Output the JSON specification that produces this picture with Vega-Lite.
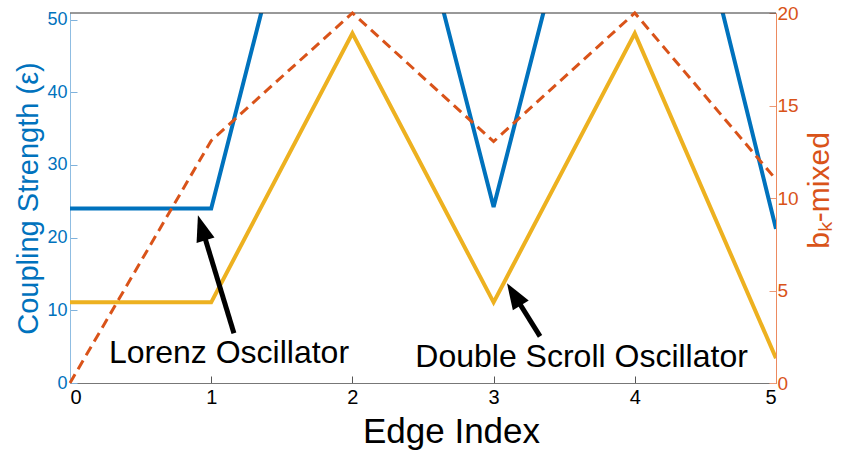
{
  "$schema": "https://vega.github.io/schema/vega-lite/v6.json",
  "autosize": "none",
  "width": 706,
  "height": 370,
  "padding": {"left": 70, "top": 13, "right": 69, "bottom": 72},
  "background": "white",
  "config": {
    "view": {"stroke": null},
    "font": "Liberation Sans",
    "axis": {"grid": false, "labelFont": "Liberation Sans", "titleFont": "Liberation Sans", "titleFontWeight": "normal"}
  },
  "datasets": {
    "series": [
      {"edge": 0, "lorenz": 24, "double_scroll": 11.1, "bk_mixed": 0},
      {"edge": 1, "lorenz": 24, "double_scroll": 11.1, "bk_mixed": 13.1},
      {"edge": 2, "lorenz": 100, "double_scroll": 48.1, "bk_mixed": 20},
      {"edge": 3, "lorenz": 24.2, "double_scroll": 11.1, "bk_mixed": 13.05},
      {"edge": 4, "lorenz": 100, "double_scroll": 48.1, "bk_mixed": 20},
      {"edge": 5, "lorenz": 21.2, "double_scroll": 3.4, "bk_mixed": 11}
    ],
    "labels": [
      {"label": "Lorenz Oscillator", "x": 1.126, "y": 2.71},
      {"label": "Double Scroll Oscillator", "x": 3.623, "y": 2.16}
    ],
    "arrows": [
      {"arrow": "lorenz", "x": 1.161, "y": 6.84, "x2": 0.938, "y2": 21.1, "tipx": 0.906, "tipy": 23.07},
      {"arrow": "double_scroll", "x": 3.329, "y": 6.42, "x2": 3.151, "y2": 11.97, "tipx": 3.095, "tipy": 13.71}
    ]
  },
  "layer": [
    {
      "layer": [
        {
          "data": {"name": "series"},
          "mark": {"type": "line", "color": "#0072BD", "strokeWidth": 4, "clip": true},
          "encoding": {
            "x": {
              "field": "edge", "type": "quantitative",
              "scale": {"domain": [0, 5], "nice": false},
              "axis": {
                "values": [0, 0.5, 1, 1.5, 2, 2.5, 3, 3.5, 4, 4.5, 5],
                "format": "d",
                "labelExpr": "datum.value % 1 === 0 ? datum.label : ''",
                "tickSize": -7, "tickColor": "#555555", "domainColor": "#777777",
                "labelColor": "black", "labelFontSize": 20, "labelPadding": 11,
                "title": "Edge Index", "titleFontSize": 35, "titleColor": "black",
                "titleX": 381, "titleY": 59, "titleBaseline": "alphabetic", "titleAlign": "center"
              }
            },
            "y": {
              "field": "lorenz", "type": "quantitative",
              "scale": {"domain": [0, 50.9], "nice": false, "zero": false},
              "axis": {
                "values": [0, 10, 20, 30, 40, 50],
                "tickSize": -7, "tickColor": "#7fb2dc", "domainColor": "#8fbde2",
                "labelColor": "#0072BD", "labelFontSize": 18, "labelPadding": 10,
                "title": "Coupling Strength (ε)", "titleColor": "#0072BD", "titleFontSize": 29,
                "titleAngle": 270, "titleX": -33, "titleY": 185, "titleBaseline": "alphabetic", "titleAlign": "center"
              }
            }
          }
        },
        {
          "data": {"name": "series"},
          "mark": {"type": "line", "color": "#EDB120", "strokeWidth": 4, "clip": true},
          "encoding": {
            "x": {"field": "edge", "type": "quantitative"},
            "y": {"field": "double_scroll", "type": "quantitative"}
          }
        },
        {
          "data": {"values": [{}]},
          "mark": {"type": "rule", "color": "#333333", "strokeWidth": 1},
          "encoding": {"y": {"datum": 50.9, "type": "quantitative"}}
        },
        {
          "data": {"name": "arrows"},
          "mark": {"type": "rule", "color": "black", "strokeWidth": 5},
          "encoding": {
            "x": {"field": "x", "type": "quantitative"},
            "y": {"field": "y", "type": "quantitative"},
            "x2": {"field": "x2"},
            "y2": {"field": "y2"}
          }
        },
        {
          "data": {"name": "arrows"},
          "transform": [{"filter": "datum.arrow === 'lorenz'"}],
          "mark": {"type": "point", "shape": "M0,0L0.36,1L-0.36,1Z", "filled": true, "color": "black", "opacity": 1, "size": 2704, "angle": 343},
          "encoding": {
            "x": {"field": "tipx", "type": "quantitative"},
            "y": {"field": "tipy", "type": "quantitative"}
          }
        },
        {
          "data": {"name": "arrows"},
          "transform": [{"filter": "datum.arrow === 'double_scroll'"}],
          "mark": {"type": "point", "shape": "M0,0L0.36,1L-0.36,1Z", "filled": true, "color": "black", "opacity": 1, "size": 2704, "angle": 328},
          "encoding": {
            "x": {"field": "tipx", "type": "quantitative"},
            "y": {"field": "tipy", "type": "quantitative"}
          }
        },
        {
          "data": {"name": "labels"},
          "mark": {"type": "text", "fontSize": 32, "font": "Liberation Sans", "color": "black", "align": "center", "baseline": "alphabetic"},
          "encoding": {
            "x": {"field": "x", "type": "quantitative"},
            "y": {"field": "y", "type": "quantitative"},
            "text": {"field": "label"}
          }
        }
      ]
    },
    {
      "data": {"name": "series"},
      "mark": {"type": "line", "color": "#D95319", "strokeWidth": 3, "strokeDash": [10, 6]},
      "encoding": {
        "x": {"field": "edge", "type": "quantitative"},
        "y": {
          "field": "bk_mixed", "type": "quantitative",
          "scale": {"domain": [0, 20], "nice": false},
          "axis": {
            "orient": "right",
            "values": [0, 5, 10, 15, 20],
            "tickSize": -7, "tickColor": "#ec9a76", "domainColor": "#ec8a60",
            "labelColor": "#D95319", "labelFontSize": 19, "labelPadding": 8,
            "title": "bₖ-mixed", "titleColor": "#D95319", "titleFontSize": 30,
            "titleAngle": 270, "titleX": 52, "titleY": 177, "titleBaseline": "alphabetic", "titleAlign": "center"
          }
        }
      }
    }
  ],
  "resolve": {"scale": {"y": "independent"}}
}
